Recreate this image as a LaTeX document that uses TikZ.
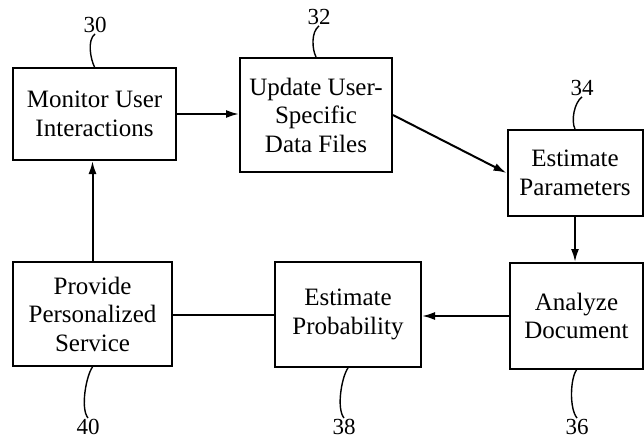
\documentclass[tikz,border=0pt]{standalone}
\usepackage{fontspec}
\newfontfamily\patentfont{Liberation Serif}
\usepackage{tikz}
\usetikzlibrary{arrows.meta, positioning, calc}

\begin{document}
\begin{tikzpicture}[x=1pt, y=-1pt,
        box/.style={draw, line width=2pt, align=center, inner sep=0pt, font=\patentfont\fontsize{25}{28.5}\selectfont},
        flow/.style={line width=2pt, -{Latex[length=13pt, width=8pt]}},
        lead/.style={line width=1.4pt},
        refnum/.style={font=\patentfont\fontsize{23}{23}\selectfont, inner sep=1pt}]
        \useasboundingbox (0,0) rectangle (644,439);
        \node[box, minimum width=163pt, minimum height=92pt] (monitor) at (94.5,114) {Monitor User\\Interactions};
        \node[box, minimum width=152pt, minimum height=114pt] (update) at (316,115) {Update User-\\Specific\\Data Files};
        \node[box, minimum width=135pt, minimum height=86pt] (params) at (575,173) {Estimate\\Parameters};
        \node[box, minimum width=133pt, minimum height=106pt] (analyze) at (576.5,316) {Analyze\\Document};
        \node[box, minimum width=146pt, minimum height=105pt] (prob) at (348,314.5) {Estimate\\Probability};
        \node[box, minimum width=159pt, minimum height=104pt] (service) at (92.5,314) {Provide\\Personalized\\Service};
        \node[refnum] (n30) at (95,25) {30};
        \node[refnum] (n32) at (319,17) {32};
        \node[refnum] (n34) at (582,88) {34};
        \node[refnum] (n40) at (88,427) {40};
        \node[refnum] (n38) at (344,427) {38};
        \node[refnum] (n36) at (577,427) {36};
        \draw[flow] (monitor.east) -- (monitor.east -| update.west);
        \draw[flow] (update.east) -- (params.west);
        \draw[flow] (params.south) -- (params.south |- analyze.north);
        \draw[flow] (analyze.west) -- (analyze.west -| prob.east);
        \draw[line width=2pt] (prob.west) -- (prob.west -| service.east);
        \draw[flow] (service.north) -- (service.north |- monitor.south);
        \draw[lead] (n30.south) .. controls +(-8,6) and +(-4,-8) .. (monitor.north);
        \draw[lead] (n32.south) .. controls +(-8,6) and +(-4,-8) .. (update.north);
        \draw[lead] (n34.south) .. controls +(-8,6) and +(-4,-8) .. (params.north);
        \draw[lead] (service.south) .. controls +(-6,8) and +(-8,-10) .. (n40.north);
        \draw[lead] (prob.south) .. controls +(-6,8) and +(-8,-10) .. (n38.north);
        \draw[lead] (analyze.south) .. controls +(-6,8) and +(-8,-10) .. (n36.north);
\end{tikzpicture}
\end{document}
